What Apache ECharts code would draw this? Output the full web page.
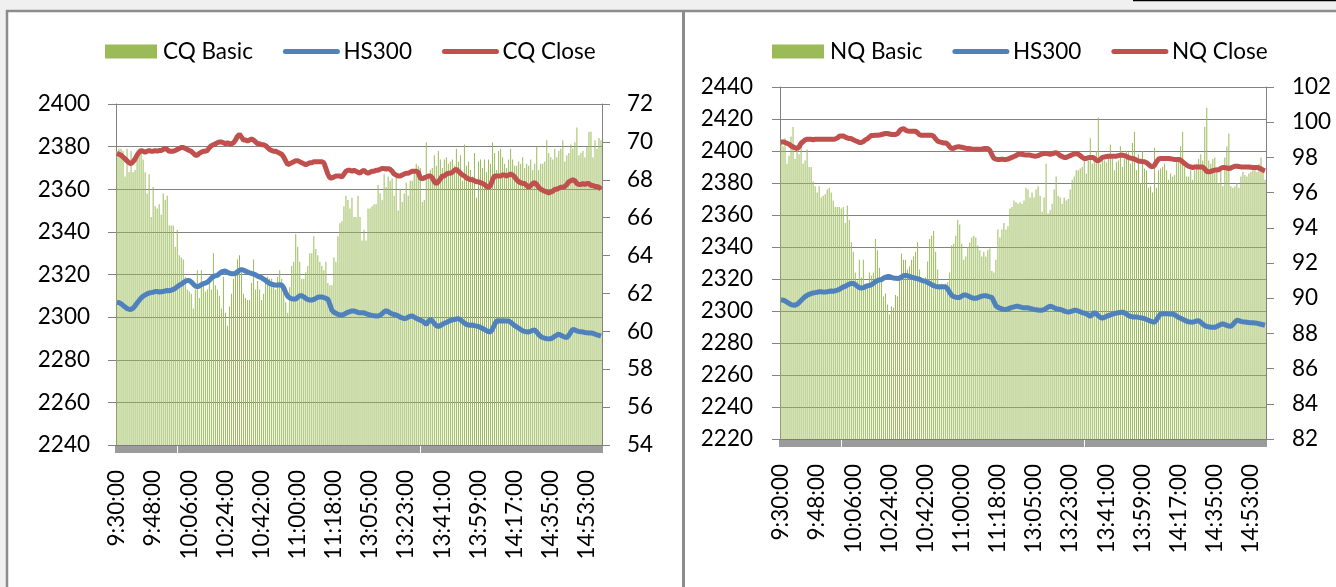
<!DOCTYPE html>
<html><head><meta charset="utf-8">
<script src="https://cdn.jsdelivr.net/npm/echarts@6/dist/echarts.min.js"></script>
<style>html,body{margin:0;padding:0;background:#fff}#c{width:1336px;height:587px}</style>
</head><body><div id="c"></div><script>
// trading sessions (one category per minute)
const sessions = [['9:30','11:30'],['13:00','15:00']];

const cqBasic = [
2378,2379,2379,2378,2366,2379,2368,2378,2368,2369,
2375,2378,2377,2374,2368,2358,2367,2347,2361,2352,
2351,2353,2348,2358,2355,2357,2343,2343,2343,2333,
2341,2329,2328,2327,2319,2313,2312,2311,2304,2313,
2322,2309,2322,2316,2312,2313,2319,2313,2330,2315,
2313,2310,2304,2319,2302,2296,2305,2311,2318,2322,
2327,2329,2321,2311,2309,2308,2308,2316,2327,2313,
2317,2313,2308,2311,2316,2319,2318,2318,2315,2313,
2319,2322,2318,2313,2307,2302,2314,2324,2326,2339,
2333,2326,2318,2318,2321,2324,2330,2330,2338,2332,
2329,2326,2324,2322,2326,2316,2315,2315,2328,2326,
2338,2344,2345,2352,2357,2355,2351,2356,2347,2347,
2357,2347,2336,2341,2336,2351,2351,2352,2353,2353,
2362,2358,2355,2367,2361,2366,2364,2365,2357,2367,
2350,2360,2354,2358,2363,2357,2364,2364,2368,2372,
2371,2370,2354,2355,2382,2366,2369,2370,2376,2371,
2378,2374,2370,2374,2375,2372,2373,2374,2371,2379,
2373,2376,2364,2381,2371,2373,2369,2366,2377,2356,
2373,2374,2370,2374,2368,2374,2372,2382,2377,2369,
2378,2379,2375,2372,2370,2374,2379,2374,2371,2371,
2373,2372,2375,2370,2372,2371,2374,2369,2372,2380,
2369,2372,2372,2373,2383,2377,2375,2374,2379,2375,
2378,2379,2383,2373,2376,2377,2381,2379,2382,2389,
2376,2377,2378,2375,2380,2387,2387,2375,2383,2379,
2384,2383];

const nqBasic = [
2406,2403,2408,2392,2397,2409,2415,2395,2400,2398,
2407,2392,2394,2401,2390,2390,2381,2378,2374,2378,
2371,2372,2373,2376,2377,2374,2369,2365,2365,2365,
2364,2365,2355,2366,2357,2343,2337,2324,2319,2332,
2321,2332,2317,2317,2324,2322,2324,2345,2338,2327,
2319,2309,2311,2304,2298,2303,2302,2310,2309,2321,
2336,2332,2332,2326,2328,2332,2334,2337,2343,2326,
2319,2320,2321,2331,2345,2347,2350,2337,2326,2317,
2317,2316,2317,2318,2324,2341,2342,2347,2357,2354,
2342,2332,2334,2340,2343,2346,2347,2346,2341,2338,
2334,2337,2334,2338,2339,2325,2324,2332,2351,2346,
2351,2355,2351,2353,2364,2365,2369,2368,2367,2368,
2367,2369,2377,2376,2371,2374,2371,2376,2378,2372,
2362,2371,2392,2361,2363,2367,2376,2384,2372,2371,
2367,2371,2369,2370,2376,2382,2384,2388,2388,2389,
2390,2395,2386,2394,2408,2392,2397,2400,2421,2392,
2395,2394,2393,2397,2404,2395,2388,2393,2394,2403,
2390,2395,2400,2399,2392,2405,2412,2388,2398,2380,
2400,2389,2388,2377,2378,2374,2402,2377,2388,2389,
2390,2392,2388,2382,2386,2384,2385,2396,2396,2403,
2412,2390,2384,2384,2388,2382,2388,2392,2395,2398,
2394,2415,2427,2394,2392,2395,2396,2390,2380,2388,
2378,2396,2403,2411,2378,2377,2378,2380,2377,2384,
2387,2385,2384,2386,2387,2388,2389,2387,2392,2396,
2388,2382];

const hs300 = [
2307,2306.8,2306.3,2305.5,2304.8,2304,2303.7,2303.6,2304.2,2305.3,
2306.6,2307.8,2309,2309.8,2310.4,2310.9,2311.3,2311.5,2311.7,2312,
2312,2311.8,2311.9,2312,2312.3,2312.5,2312.4,2312.6,2313,2313.5,
2314.3,2315,2315.4,2316.2,2316.8,2317.2,2317.2,2316.5,2315.5,2314.6,
2314.3,2314.6,2315.2,2315.7,2316,2316.4,2317.2,2318.3,2319,2319.4,
2319.6,2320.5,2321.2,2321.5,2321.6,2321,2320.6,2320.4,2320.3,2320.5,
2321.3,2322,2322.3,2322,2321.6,2321.2,2320.8,2320.5,2320.2,2319.8,
2319.2,2318.8,2318.5,2317.8,2317.2,2316.5,2315.8,2315.4,2315.2,2315,
2315.1,2315.2,2315,2313.8,2311.5,2309.8,2309,2308.6,2308.5,2308.5,
2309.3,2310,2310,2309.5,2308.8,2308.3,2308,2308,2308.3,2308.8,
2309.3,2309.5,2309.5,2309.2,2308.8,2308.5,2306,2303.3,2302.3,2301.8,
2301.3,2301.1,2301,2301.3,2301.8,2302.3,2302.6,2302.9,2302.9,2302.6,
2302.2,2302,2302,2302,2301.6,2301.3,2301,2300.8,2300.6,2300.5,
2300.5,2300.9,2301.6,2302.5,2303,2302.6,2302,2301.5,2301.2,2301,
2300.6,2300,2299.6,2299.3,2299.5,2300,2300.4,2300.5,2300,2299.5,
2299,2298.6,2298.2,2297.5,2296.6,2297.8,2299,2298.2,2297,2296,
2295.6,2296,2296.6,2297.1,2297.5,2298,2298.4,2298.7,2298.9,2299.1,
2299.3,2298.8,2298,2297.2,2296.6,2296.3,2296.2,2296.3,2296,2295.8,
2295.6,2295.2,2294.7,2294.2,2293.6,2293.2,2293,2294.5,2296.5,2298.2,
2298.3,2298.2,2298.3,2298.2,2298.2,2298.2,2297.6,2296.8,2296,2295.4,
2294.8,2294.2,2293.6,2293.3,2293.1,2293,2293.4,2293.8,2294,2293,
2291.8,2290.9,2290.4,2290.1,2289.9,2289.8,2289.8,2290.3,2291,2291.6,
2292,2291.5,2291,2290.6,2290.4,2291.5,2293,2294.3,2294,2293.5,
2293.2,2293.1,2293,2292.8,2292.7,2292.6,2292.5,2292.4,2292,2291.7,
2291.4,2291.1];

const cqClose = [
69.4,69.35,69.3,69.2,69.1,69.0,68.9,68.85,68.95,69.1,
69.3,69.45,69.55,69.5,69.45,69.5,69.55,69.5,69.5,69.55,
69.5,69.55,69.55,69.6,69.65,69.6,69.5,69.5,69.5,69.55,
69.6,69.65,69.7,69.7,69.65,69.6,69.55,69.5,69.4,69.3,
69.3,69.4,69.45,69.5,69.5,69.55,69.7,69.8,69.85,69.9,
69.95,70.0,70.0,69.95,69.9,69.95,69.9,69.9,69.95,70.1,
70.3,70.4,70.25,70.1,70.1,70.05,70.1,70.15,70.1,70.0,
69.9,69.9,69.85,69.85,69.8,69.7,69.6,69.55,69.5,69.5,
69.45,69.4,69.35,69.2,69.0,68.8,68.85,68.9,68.95,69.0,
69.0,68.95,68.9,68.85,68.8,68.85,68.9,68.9,68.95,68.95,
68.95,68.95,68.95,68.9,68.6,68.3,68.1,68.1,68.15,68.2,
68.2,68.2,68.15,68.3,68.45,68.5,68.5,68.45,68.5,68.45,
68.4,68.35,68.45,68.5,68.4,68.35,68.4,68.45,68.45,68.5,
68.5,68.55,68.6,68.6,68.55,68.6,68.55,68.45,68.3,68.25,
68.2,68.2,68.25,68.3,68.35,68.35,68.4,68.45,68.45,68.45,
68.4,68.1,68.05,68.1,68.15,68.2,68.2,68.1,67.9,67.8,
67.9,68.05,68.2,68.2,68.3,68.35,68.35,68.4,68.5,68.55,
68.45,68.35,68.25,68.2,68.1,68.05,68.0,68.0,67.95,67.9,
67.9,67.85,67.8,67.75,67.65,67.6,67.7,68.0,68.2,68.2,
68.2,68.2,68.25,68.25,68.2,68.25,68.3,68.25,68.15,68.0,
67.9,67.85,67.8,67.8,67.7,67.6,67.7,67.8,67.85,67.75,
67.6,67.5,67.45,67.4,67.35,67.3,67.35,67.4,67.5,67.5,
67.55,67.6,67.6,67.65,67.75,67.9,67.95,68.0,67.95,67.8,
67.75,67.75,67.8,67.75,67.8,67.8,67.7,67.7,67.65,67.65,
67.6,67.5];

const nqClose = [
98.88,98.88,98.85,98.8,98.75,98.65,98.6,98.55,98.5,98.6,
98.8,98.9,99.0,99.03,99.03,99.03,99.0,99.03,99.03,99.03,
99.03,99.03,99.03,99.03,99.03,99.03,99.03,99.05,99.1,99.2,
99.22,99.22,99.15,99.1,99.07,99.07,99.0,98.95,98.9,98.85,
98.85,98.9,99.0,99.05,99.15,99.25,99.25,99.26,99.26,99.27,
99.3,99.33,99.36,99.36,99.33,99.3,99.3,99.3,99.35,99.5,
99.6,99.64,99.55,99.5,99.49,99.49,99.49,99.49,99.4,99.28,
99.26,99.26,99.26,99.26,99.26,99.26,99.2,99.05,98.92,98.88,
98.85,98.82,98.82,98.75,98.6,98.5,98.52,98.58,98.6,98.6,
98.58,98.55,98.52,98.5,98.5,98.48,98.47,98.47,98.47,98.47,
98.48,98.5,98.5,98.5,98.4,98.15,97.95,97.9,97.88,97.88,
97.9,97.88,97.88,97.9,97.95,98.0,98.05,98.1,98.18,98.18,
98.18,98.15,98.13,98.13,98.13,98.1,98.08,98.07,98.1,98.15,
98.2,98.22,98.22,98.2,98.18,98.2,98.25,98.26,98.2,98.1,
98.05,98.0,98.0,98.05,98.1,98.15,98.2,98.22,98.18,98.1,
98.0,97.94,97.94,97.98,98.0,98.0,97.95,97.85,97.8,97.9,
98.0,98.02,98.05,98.07,98.07,98.07,98.07,98.07,98.1,98.12,
98.13,98.1,98.05,98.0,97.96,97.94,97.9,97.85,97.8,97.78,
97.76,97.75,97.7,97.6,97.5,97.46,97.55,97.75,97.9,97.94,
97.94,97.94,97.94,97.94,97.92,97.9,97.88,97.88,97.88,97.85,
97.75,97.65,97.56,97.5,97.45,97.43,97.45,97.46,97.46,97.46,
97.45,97.35,97.2,97.18,97.2,97.25,97.28,97.28,97.3,97.38,
97.43,97.42,97.4,97.37,97.4,97.45,97.5,97.5,97.48,97.46,
97.46,97.46,97.46,97.45,97.44,97.43,97.43,97.43,97.4,97.35,
97.28,97.24];

// category labels, one per minute of each session
const categories = [];
sessions.forEach(([a, b]) => {
  const [ah, am] = a.split(':').map(Number);
  const [bh, bm] = b.split(':').map(Number);
  for (let t = ah * 60 + am; t <= bh * 60 + bm; t++) {
    const h = Math.floor(t / 60), m = t % 60;
    categories.push(h + ':' + String(m).padStart(2, '0') + ':00');
  }
});

const FONT = "Lato,'Liberation Sans',sans-serif";
const FS = 22.5;
const GRID = '#828282';
const GREEN = '#9bbb59', BLUE = '#4f81bd', RED = '#c0504d';

function xAxis(gi) {
  return {
    gridIndex: gi, type: 'category', data: categories, boundaryGap: true,
    axisLine: { show: true, lineStyle: { color: GRID, width: 1 } },
    axisTick: { show: true, interval: 0, length: 8, lineStyle: { color: '#7a7a7a', width: 1.5 } },
    axisLabel: { interval: 17, rotate: 90, fontSize: FS, color: '#000', margin: 25, fontFamily: FONT },
    splitLine: { show: false }
  };
}
function yAxis(gi, min, max, interval, pos, split, margin) {
  return {
    gridIndex: gi, type: 'value', min: min, max: max, interval: interval, position: pos,
    axisLine: { show: true, lineStyle: { color: GRID, width: 1 } },
    axisTick: { show: true, length: 8, lineStyle: { color: GRID, width: 1 } },
    splitLine: { show: split, lineStyle: { color: GRID, width: 1 } },
    axisLabel: { fontSize: FS, color: '#000', margin: margin, fontFamily: FONT, formatter: v => String(v) }
  };
}
function legend(left, names) {
  const lineItem = (n, c) => ({ name: n, itemStyle: { opacity: 0 }, lineStyle: { color: c, width: 5, cap: 'round' } });
  return {
    left: left, top: 40, padding: 0, itemWidth: 52, itemHeight: 14, itemGap: 30,
    textStyle: { fontSize: FS, color: '#000', fontFamily: FONT, padding: [0, 0, 0, 1] },
    data: [{ name: names[0], icon: 'rect' }, lineItem(names[1], BLUE), lineItem(names[2], RED)]
  };
}
function bar(name, gi, data) {
  return { type: 'bar', name: name, xAxisIndex: gi, yAxisIndex: gi * 2, data: data,
    barWidth: 1, itemStyle: { color: GREEN }, z: 1 };
}
function line(name, gi, yi, data, color) {
  return { type: 'line', name: name, xAxisIndex: gi, yAxisIndex: yi, data: data,
    symbol: 'none', showSymbol: false, lineStyle: { color: color, width: 5 },
    itemStyle: { color: color }, z: 3 };
}

const chart = echarts.init(document.getElementById('c'), null, { renderer: 'canvas' });
chart.setOption({
  animation: false,
  backgroundColor: '#fff',
  textStyle: { fontFamily: FONT },
  graphic: [
    { type: 'rect', shape: { x: 0, y: 0, width: 1336, height: 10 }, style: { fill: '#f0f0f0' }, silent: true },
    { type: 'rect', shape: { x: 0, y: 0, width: 6, height: 587 }, style: { fill: '#f0f0f0' }, silent: true },
    { type: 'line', shape: { x1: 1133, y1: 0.5, x2: 1336, y2: 0.5 }, style: { stroke: '#000', lineWidth: 1.5 }, silent: true },
    { type: 'line', shape: { x1: 6, y1: 11, x2: 1336, y2: 11 }, style: { stroke: '#8c8c8c', lineWidth: 2.5 }, silent: true },
    { type: 'line', shape: { x1: 7, y1: 10, x2: 7, y2: 587 }, style: { stroke: '#8c8c8c', lineWidth: 2.5 }, silent: true },
    { type: 'line', shape: { x1: 683.5, y1: 10, x2: 683.5, y2: 587 }, style: { stroke: '#8c8c8c', lineWidth: 3 }, silent: true }
  ],
  legend: [
    legend(105, ['CQ Basic', 'HS300', 'CQ Close']),
    legend(772, ['NQ Basic', 'HS300', 'NQ Close'])
  ],
  grid: [
    { left: 116, top: 104, width: 486, height: 341 },
    { left: 780, top: 87, width: 486, height: 352 }
  ],
  xAxis: [xAxis(0), xAxis(1)],
  yAxis: [
    yAxis(0, 2240, 2400, 20, 'left', true, 26),
    yAxis(0, 54, 72, 2, 'right', false, 25),
    yAxis(1, 2220, 2440, 20, 'left', true, 27),
    yAxis(1, 82, 102, 2, 'right', false, 26)
  ],
  series: [
    bar('CQ Basic', 0, cqBasic),
    line('HS300', 0, 0, hs300, BLUE),
    line('CQ Close', 0, 1, cqClose, RED),
    bar('NQ Basic', 1, nqBasic),
    line('HS300', 1, 2, hs300, BLUE),
    line('NQ Close', 1, 3, nqClose, RED)
  ]
});
</script></body></html>
